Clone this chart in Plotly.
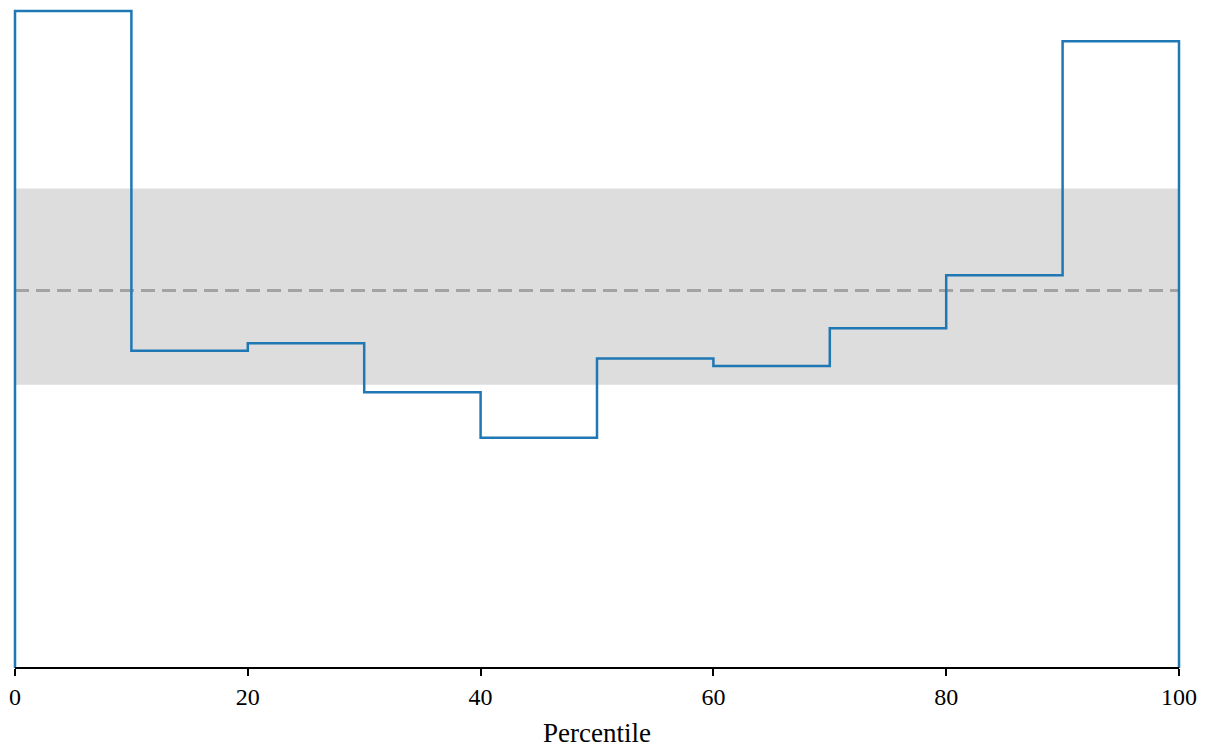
import plotly.graph_objects as go

# Data
bin_edges = [0, 10, 20, 30, 40, 50, 60, 70, 80, 90, 100]
counts = [174, 84, 86, 73, 61, 82, 80, 90, 104, 166]
expected = 100
band_low = 75
band_high = 127
x_ticks = [0, 20, 40, 60, 80, 100]
x_label = "Percentile"

# Step outline
xs = [bin_edges[0]] + bin_edges[:-1] + [bin_edges[-1], bin_edges[-1]]
ys = [0] + counts + [counts[-1], 0]

# small padding so edge lines are not clipped (2px each side)
px_per_x = 1164 / (bin_edges[-1] - bin_edges[0])
px_per_y = 657 / max(counts)
xpad = 2 / px_per_x
ypad = 2 / px_per_y

fig = go.Figure()
fig.add_shape(type="rect", xref="x", yref="y", x0=bin_edges[0], x1=bin_edges[-1],
              y0=band_low, y1=band_high, fillcolor="#dddddd", line_width=0, layer="below")
fig.add_trace(go.Scatter(x=[bin_edges[0], bin_edges[-1]], y=[expected, expected], mode="lines",
                         line=dict(color="#a3a3a3", width=3, dash="14px,7px"),
                         hoverinfo="skip", showlegend=False))
fig.add_trace(go.Scatter(x=xs, y=ys, mode="lines", line_shape="hv",
                         line=dict(color="#1f77b4", width=2.5), cliponaxis=False,
                         showlegend=False))

fig.update_layout(
    width=1207, height=748,
    margin=dict(l=13, r=26, t=9, b=80),
    plot_bgcolor="white", paper_bgcolor="white",
    font=dict(family="Liberation Serif", size=24, color="black"),
    xaxis=dict(range=[bin_edges[0] - xpad, bin_edges[-1] + xpad], tickvals=x_ticks,
               ticktext=[str(t) for t in x_ticks], automargin=False,
               tickfont=dict(family="Liberation Serif", size=24, color="black"),
               showgrid=False, zeroline=False, showline=False,
               ticks="outside", ticklen=7, tickwidth=1.5, tickcolor="black",
               title=dict(text=x_label, standoff=14,
                          font=dict(family="Liberation Serif", size=27, color="black"))),
    yaxis=dict(range=[0, max(counts) + ypad], showgrid=False, zeroline=False, showline=False,
               showticklabels=False, ticks="", automargin=False),
)
# bottom axis spine spanning the data extent
fig.add_shape(type="line", xref="x", yref="paper", x0=bin_edges[0], x1=bin_edges[-1], y0=0, y1=0,
              line=dict(color="black", width=2), layer="above")
fig.write_html("out.html", config={"displayModeBar": False},
               post_script="document.body.style.margin='0';document.body.style.overflow='hidden';")
